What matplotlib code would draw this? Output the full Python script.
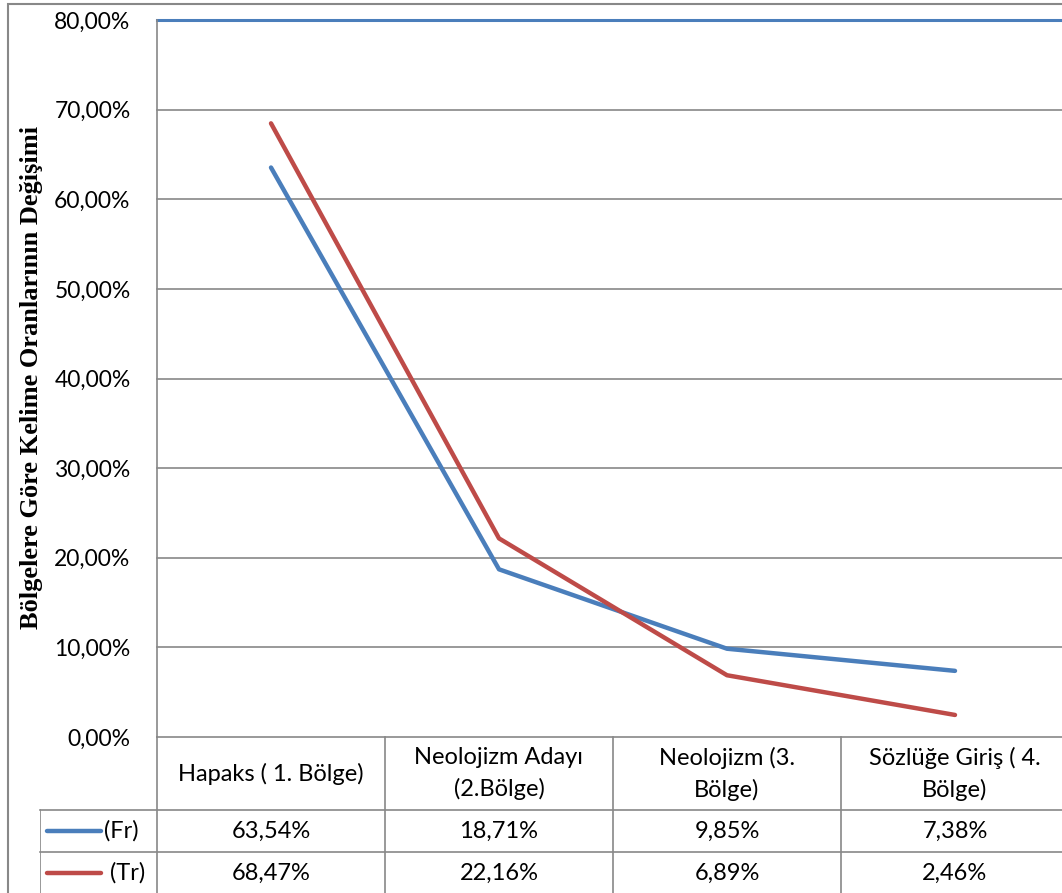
import matplotlib
matplotlib.use("Agg")
import matplotlib.pyplot as plt
from matplotlib.ticker import FuncFormatter
from matplotlib.patches import Rectangle

categories = ["Hapaks ( 1. Bölge)", "Neolojizm Adayı\n(2.Bölge)",
              "Neolojizm (3.\nBölge)", "Sözlüğe Giriş ( 4.\nBölge)"]
series_names = ["(Fr)", " (Tr)"]
fr_values = [63.54, 18.71, 9.85, 7.38]
tr_values = [68.47, 22.16, 6.89, 2.46]
y_ticks = [0, 10, 20, 30, 40, 50, 60, 70, 80]
ylabel = "Bölgelere Göre Kelime Oranlarının Değişimi"

blue = "#4a7ebb"
red = "#be4b48"
grid_c = "#888888"
sans = "Lato"
fs = 17

W, H = 1062, 893
fig = plt.figure(figsize=(W / 100, H / 100), dpi=100)

# outer chart frame
fig.patches.append(Rectangle((8 / W, -0.1), 1.2, (H - 4) / H + 0.1,
                             transform=fig.transFigure, fill=False,
                             edgecolor=grid_c, lw=1.5))

x_left, x_right = 157, 1069
y_zero, y_top = 737, 20
col_w = (x_right - x_left) / len(categories)
ax = fig.add_axes([x_left / W, (H - y_zero) / H, (x_right - x_left) / W,
                   (y_zero - y_top) / H])
xs = list(range(len(categories)))
ax.set_xlim(-0.5, len(categories) - 0.5)
ax.set_ylim(0, 80)

for t in y_ticks[:-1]:
    ax.axhline(t, color=grid_c, lw=1.2, zorder=1, clip_on=False)
ax.axhline(y_ticks[-1], color=blue, lw=2.2, zorder=1, clip_on=False)

ax.plot(xs, fr_values, color=blue, lw=3.2, solid_capstyle="round", zorder=3)
ax.plot(xs, tr_values, color=red, lw=3.2, solid_capstyle="round", zorder=3)

for s in ["top", "right", "bottom"]:
    ax.spines[s].set_visible(False)
ax.spines["left"].set_color(grid_c)
ax.spines["left"].set_linewidth(1.2)
ax.set_yticks(y_ticks)
ax.yaxis.set_major_formatter(FuncFormatter(lambda v, p: f"{v:.2f}%".replace(".", ",")))
ax.tick_params(axis="y", length=0, pad=19, labelsize=16.5)
for lab in ax.get_yticklabels():
    lab.set_fontfamily(sans)
ax.set_xticks([])

fig.text(32 / W, 1 - 377 / H, ylabel, rotation=90, ha="center", va="center",
         family="Liberation Serif", fontweight="bold", fontsize=19)

# data table under the plot
legend_w = (x_left - 40) / col_w
tax = fig.add_axes([40 / W, 0, (x_right - 40) / W, (H - y_zero) / H])
tax.set_xlim(-0.5 - legend_w, len(categories) - 0.5)
tax.set_ylim(H - y_zero, 0)
tax.axis("off")
x0 = -0.5 - legend_w
head_h, row_h = 73, 42
for i in range(len(categories) + 1):
    tax.plot([i - 0.5, i - 0.5], [0, H - y_zero], color=grid_c, lw=1.2, clip_on=False)
tax.plot([x0, x0], [head_h, H - y_zero], color=grid_c, lw=1.2)
for r in range(2):
    y = head_h + r * row_h
    tax.plot([x0, len(categories) - 0.5], [y, y], color=grid_c, lw=1.2, clip_on=False)

for i, c in enumerate(categories):
    tax.text(i, head_h / 2, c, ha="center", va="center", fontsize=fs,
             family=sans, linespacing=1.55)

rows = [fr_values, tr_values]
colors = [blue, red]
px = 1 / col_w
for r, vals in enumerate(rows):
    yc = head_h + r * row_h + row_h / 2
    tax.plot([x0 + 7 * px, x0 + 61 * px], [yc, yc], color=colors[r], lw=3.2,
             solid_capstyle="round")
    tax.text(x0 + 64 * px, yc, series_names[r], ha="left", va="center",
             fontsize=fs, family=sans)
    for i, v in enumerate(vals):
        tax.text(i, yc, f"{v:.2f}%".replace(".", ","), ha="center", va="center",
                 fontsize=fs, family=sans)

fig.savefig("out.png", dpi=100)
